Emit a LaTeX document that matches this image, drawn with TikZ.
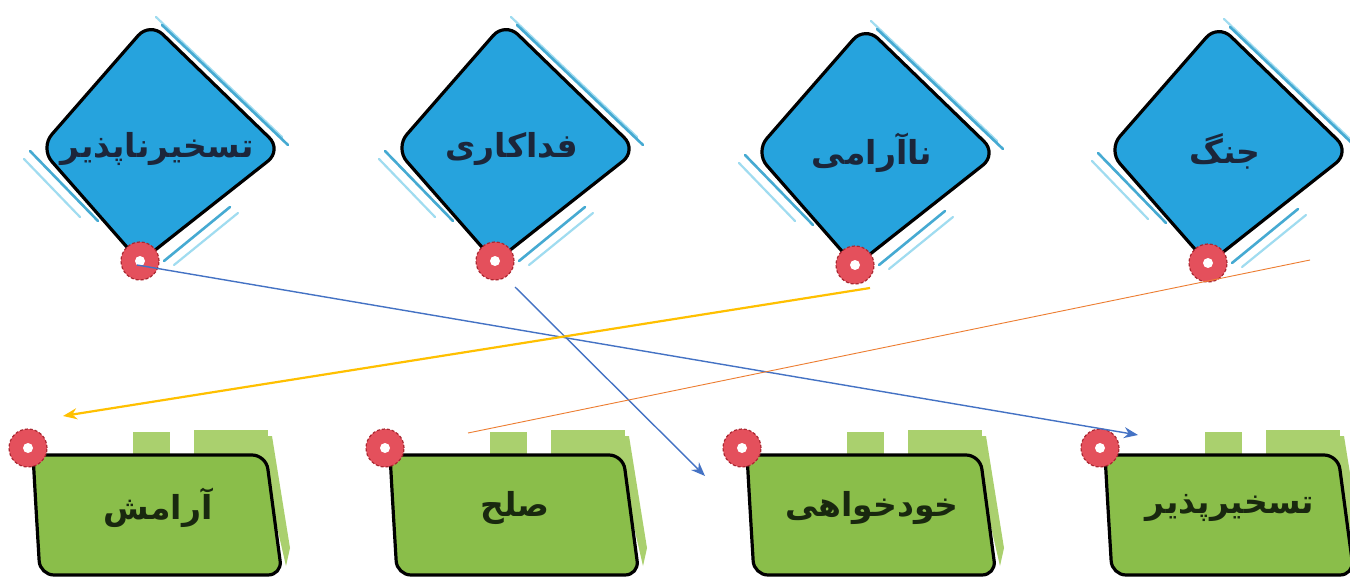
\documentclass[tikz,border=0pt]{standalone}
\usepackage{fontspec}
\newfontfamily\arabicfont[Script=Arabic]{DejaVu Sans}
\TeXXeTstate=1
\usetikzlibrary{arrows.meta,calc}
\definecolor{dblue}{RGB}{38,163,221}
\definecolor{acc}{RGB}{70,170,210}
\definecolor{accl}{RGB}{160,220,240}
\definecolor{ggreen}{RGB}{138,190,74}
\definecolor{lgreen}{RGB}{170,208,110}
\definecolor{rdot}{RGB}{228,80,92}
\definecolor{rdotd}{RGB}{170,40,50}
\definecolor{arrblue}{RGB}{68,114,196}
\definecolor{arryel}{RGB}{255,192,0}
\definecolor{arrorg}{RGB}{237,125,49}
\definecolor{tdark}{RGB}{28,38,58}
\definecolor{gdark}{RGB}{25,40,15}
\tikzset{
  dshape/.style={draw=black,line width=3.2pt,fill=dblue,rounded corners=18pt,line join=round},
  accent/.style={draw=acc,line width=2.6pt,line cap=round},
  accentl/.style={draw=accl,line width=2.2pt,line cap=round},
  gshape/.style={draw=black,line width=3.2pt,fill=ggreen,rounded corners=14pt,line join=round},
  dtext/.style={text=tdark,font=\arabicfont\bfseries\fontsize{33}{36}\selectfont,inner sep=0pt},
  gtext/.style={text=gdark,font=\arabicfont\bfseries\fontsize{33}{36}\selectfont,inner sep=0pt},
  reddot/.style={circle,minimum size=38pt,inner sep=0pt,fill=rdot,draw=rdotd,densely dashed,line width=1.2pt},
  conn/.style={line width=1.4pt},
  tip/.style={-{Stealth[length=14pt,width=11pt]}}
}
\newcommand\dbox[4]{%
\begin{scope}[shift={(#2,#3)}]
  \draw[accentl] (-4,-126) -- (122,-6);
  \draw[accent] (2,-118) -- (128,2);
  \draw[accent] (-130,8) -- (-62,78);
  \draw[accentl] (-136,16) -- (-80,74);
  \draw[accent] (70,64) -- (4,118);
  \draw[accentl] (78,70) -- (14,122);
  \draw[dshape] (-10,-121) -- (122,7) -- (-20,119) -- (-120,5) -- cycle;
  \node[dtext] (#1) at (-3,6) {\beginR #4\endR};
  \node[reddot] (#1dot) at (-20,118) {};
  \fill[white] (-20,118) circle (5pt);
\end{scope}}
\newcommand\gbox[4]{%
\begin{scope}[shift={(#2,#3)}]
  \fill[lgreen] (105,-16) rectangle (142,10);
  \fill[lgreen] (166,-18) rectangle (240,10);
  \fill[lgreen] (225,-12) -- (244,-12) -- (262,100) -- (258,118) -- (240,40) -- cycle;
  \draw[gshape] (2,7) -- (238,7) -- (254,127) -- (12,127) -- (8,60) -- (5,7);
  \node[gtext] (#1) at (130,60) {\beginR #4\endR};
  \node[reddot] (#1dot) at (0,0) {};
  \fill[white] (0,0) circle (5pt);
\end{scope}}
\begin{document}
\begin{tikzpicture}[x=1pt,y=-1pt]
\useasboundingbox (0,0) rectangle (1350,586);
\fill[white] (0,0) rectangle (1350,586);
% top diamonds
\dbox{d1}{160}{143}{تسخیرناپذیر}
\dbox{d2}{515}{143}{فداکاری}
\dbox{d3}{875}{147}{ناآرامی}
\dbox{d4}{1228}{145}{جنگ}
% bottom boxes
\gbox{b1}{28}{448}{آرامش}
\gbox{b2}{385}{448}{صلح}
\gbox{b3}{742}{448}{خودخواهی}
\gbox{b4}{1100}{448}{تسخیرپذیر}
% connector end points
\coordinate (s1) at (137,265);
\coordinate (e1) at (1138,435);
\coordinate (s2) at (515,287);
\coordinate (e2) at (705,476);
\coordinate (s3) at (870,288);
\coordinate (e3) at (63,416);
\coordinate (s4) at (1310,260);
\coordinate (e4) at (468,433);
\draw[conn,arrblue,tip] (s1) -- (e1);
\draw[conn,arrblue,tip] (s2) -- (e2);
\draw[line width=2.2pt,arryel,tip] (s3) -- (e3);
\draw[line width=0.9pt,arrorg] (s4) -- (e4);
\end{tikzpicture}
\end{document}
